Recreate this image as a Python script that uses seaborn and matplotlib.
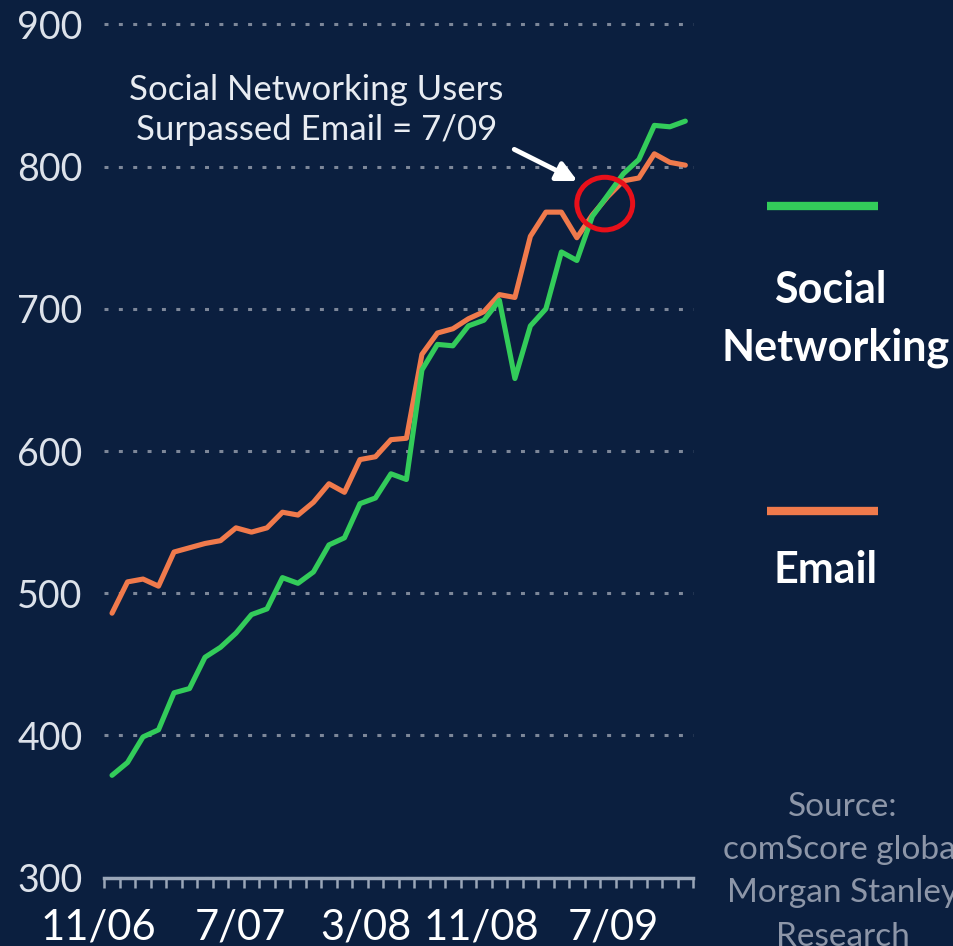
import numpy as np
import pandas as pd
import matplotlib
matplotlib.use("Agg")
import matplotlib.pyplot as plt
import seaborn as sns
from matplotlib.patches import Ellipse
from matplotlib.lines import Line2D

# ---- data (millions of users, monthly 11/06 .. 12/09) ----
months = [p.strftime("%-m/%y") for p in pd.period_range("2006-11", "2009-12", freq="M")]
social = [372, 381, 399, 404, 430, 433, 455, 462, 472, 485,
          489, 511, 507, 515, 534, 539, 563, 567, 584, 580,
          657, 675, 674, 688, 692, 706, 651, 688, 700, 740,
          734, 765, 780, 795, 805, 829, 828, 832]
email = [486, 508, 510, 505, 529, 532, 535, 537, 546, 543,
         546, 557, 555, 564, 577, 571, 594, 596, 608, 609,
         668, 683, 686, 693, 698, 710, 708, 751, 768, 768,
         750, 766, 779, 790, 792, 809, 803, 801]
tick_labels = ["11/06", "7/07", "3/08", "11/08", "7/09"]
y_ticks = [300, 400, 500, 600, 700, 800, 900]

BG = "#0b1f3f"
GREEN = "#33cc5a"
ORANGE = "#f07a4c"
GRID = "#7d8799"
AXIS = "#9aa6b8"

sns.set_theme(style="dark")
plt.rcParams["font.family"] = ["Lato", "DejaVu Sans"]

df = pd.DataFrame({
    "month": months * 2,
    "idx": list(range(len(months))) * 2,
    "users": social + email,
    "series": ["Social Networking"] * len(months) + ["Email"] * len(months),
})

fig = plt.figure(figsize=(9.54, 9.46), dpi=100, facecolor=BG)
ax = fig.add_axes([0.1085, 0.0722, 0.618, 0.902])
ax.set_facecolor(BG)

sns.lineplot(data=df, x="idx", y="users", hue="series",
             palette={"Social Networking": GREEN, "Email": ORANGE},
             hue_order=["Email", "Social Networking"],
             linewidth=3.7, legend=False, ax=ax, zorder=3)

ax.set_xlim(-0.55, 37.5)
ax.set_ylim(300, 900)
ax.set_xlabel("")
ax.set_ylabel("")

# y axis
ax.set_yticks(y_ticks)
ax.set_yticklabels([str(v) for v in y_ticks])
ax.tick_params(axis="y", length=0, pad=15, labelsize=27, labelcolor="#dde2ea")
ax.yaxis.grid(True, color=GRID, linestyle=(0, (1.3, 3.4)), linewidth=2.2)
ax.xaxis.grid(False)
for gl in ax.get_ygridlines():
    gl.set_clip_on(False)

# x axis
major_pos = [months.index(l) for l in tick_labels]
ax.set_xticks(major_pos)
ax.set_xticklabels(tick_labels)
ax.set_xticks(np.arange(-0.5, len(months), 1), minor=True)
ax.tick_params(axis="x", which="major", length=0, pad=22, labelsize=30, labelcolor="white")
ax.tick_params(axis="x", which="minor", length=7, width=1.8, color=AXIS, direction="out", bottom=True)
for lab, dx in zip(ax.get_xticklabels(), [-14, 4, 6, -3, 6]):
    lab.set_transform(lab.get_transform() + matplotlib.transforms.Affine2D().translate(dx, 0))

for s in ["top", "right", "left"]:
    ax.spines[s].set_visible(False)
ax.spines["bottom"].set_color(AXIS)
ax.spines["bottom"].set_linewidth(2.5)
ax.spines["bottom"].set_zorder(4)

# annotation
ax.text(13.2, 840, "Social Networking Users\nSurpassed Email = 7/09",
        ha="center", va="center", fontsize=25, color="#e8ecf2", linespacing=1.3)
ax.annotate("", xy=(30.2, 789), xytext=(25.8, 813),
            arrowprops=dict(arrowstyle="-|>", color="white", lw=3.5, mutation_scale=30))
ax.add_patch(Ellipse((31.8, 774), width=3.6, height=37, fill=False,
                     edgecolor="#e8101a", lw=3.6, zorder=5))

# legend (manual, right side)
fig.add_artist(Line2D([767 / 954, 878 / 954], [1 - 206.5 / 946] * 2,
                      color=GREEN, lw=6, solid_capstyle="butt"))
fig.add_artist(Line2D([767 / 954, 878 / 954], [1 - 511 / 946] * 2,
                      color=ORANGE, lw=6, solid_capstyle="butt"))
fig.text(830 / 954, 1 - 303 / 946, "Social", ha="center", va="baseline",
         fontsize=31, fontweight="bold", color="white")
fig.text(836 / 954, 1 - 360 / 946, "Networking", ha="center", va="baseline",
         fontsize=31, fontweight="bold", color="white")
fig.text(826 / 954, 1 - 583 / 946, "Email", ha="center", va="baseline",
         fontsize=31, fontweight="bold", color="white")

# source
fig.text(843 / 954, 1 - 792 / 946, "Source:\ncomScore global\nMorgan Stanley\nResearch",
         ha="center", va="top", fontsize=24, color="#8d96a8", linespacing=1.55)

fig.savefig("out.png", dpi=100, facecolor=BG)
